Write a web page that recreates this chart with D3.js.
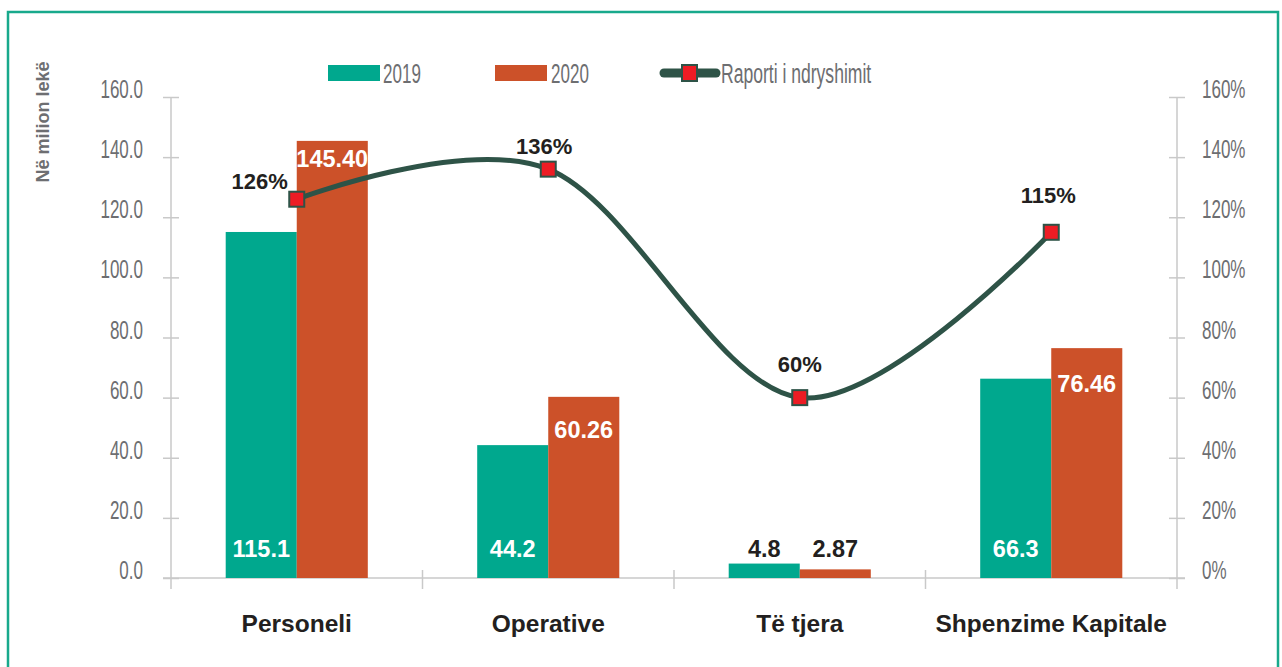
<!DOCTYPE html>
<html lang="en">
<head>
<meta charset="UTF-8">
<title>Shpenzimet 2019 - 2020</title>
<style>
  body { margin: 0; background: #fff; }
  .cond { font-family: "Liberation Sans Narrow", "Liberation Sans", Arial, sans-serif; fill: #6d6e71; }
  .bold { font-family: "Liberation Sans", Arial, sans-serif; font-weight: bold; }
</style>
</head>
<body>
<div id="chart"></div>
<script src="https://d3js.org/d3.v7.min.js"></script>
<script>
// data
var categories = ["Personeli", "Operative", "Të tjera", "Shpenzime Kapitale"];
var series = ["2019", "2020"];
var values2019 = [115.1, 44.2, 4.8, 66.3];
var values2020 = [145.40, 60.26, 2.87, 76.46];
var labels2019 = ["115.1", "44.2", "4.8", "66.3"];
var labels2020 = ["145.40", "60.26", "2.87", "76.46"];
var ratio = [1.26, 1.36, 0.60, 1.15];
var leftTicks = [0, 20, 40, 60, 80, 100, 120, 140, 160];
var rightTicks = [0, 0.2, 0.4, 0.6, 0.8, 1.0, 1.2, 1.4, 1.6];

// label placement tweaks (layout only)
var lab2020Dy = [26, 41, 0, 44];
var ratioDx = [-37, -4, 0, -3];
var ratioDy = [-10, -15, -26, -29];

var width = 1282, height = 667;
var colors = { "2019": "#00a88e", "2020": "#cc5129" };
var lineColor = "#2e5347";
var axisColor = "#c9c9c9";

var svg = d3.select("#chart").append("svg")
    .attr("width", width)
    .attr("height", height);

// squeeze text horizontally to imitate the condensed face
function squeeze(sel, k) {
  sel.each(function () {
    var len = this.getComputedTextLength();
    d3.select(this).attr("textLength", len * k).attr("lengthAdjust", "spacingAndGlyphs");
  });
}

// frame
svg.append("rect")
    .attr("x", 8).attr("y", 12)
    .attr("width", 1270).attr("height", 700)
    .attr("fill", "none")
    .attr("stroke", "#18a98c")
    .attr("stroke-width", 2.5);

var x = d3.scaleBand().domain(categories).range([171, 1177]);
var x1 = d3.scaleBand().domain(series).range([0, x.bandwidth()]).paddingOuter(0.77);
var y = d3.scaleLinear().domain([0, 160]).range([578, 97]);
var yR = d3.scaleLinear().domain([0, 1.6]).range([578, 97]);

// left axis
var gl = svg.append("g").attr("transform", "translate(171,0)")
    .call(d3.axisLeft(y).tickValues(leftTicks).tickFormat(d3.format(".1f")));
gl.select(".domain").remove();
gl.selectAll(".tick line").attr("x1", -8).attr("x2", 8).attr("stroke", axisColor).attr("stroke-width", 1.5);
gl.selectAll(".tick text").attr("class", "cond").attr("x", -28).attr("dy", "0.02em")
    .style("font-size", "25px").attr("font-family", null).call(squeeze, 0.68);
gl.append("line").attr("y1", y(160)).attr("y2", y(0) + 11)
    .attr("stroke", axisColor).attr("stroke-width", 1.5);

// right axis
var gr = svg.append("g").attr("transform", "translate(1177,0)")
    .call(d3.axisRight(yR).tickValues(rightTicks).tickFormat(d3.format(".0%")));
gr.select(".domain").remove();
gr.selectAll(".tick line").attr("x1", -8).attr("x2", 8).attr("stroke", axisColor).attr("stroke-width", 1.5);
gr.selectAll(".tick text").attr("class", "cond").attr("x", 25).attr("dy", "0.02em")
    .style("font-size", "25px").attr("font-family", null).call(squeeze, 0.68);
gr.append("line").attr("y1", yR(1.6)).attr("y2", yR(0) + 11)
    .attr("stroke", axisColor).attr("stroke-width", 1.5);

// bottom axis
var gb = svg.append("g").attr("transform", "translate(0," + y(0) + ")")
    .call(d3.axisBottom(x).tickSize(0).tickPadding(37));
gb.select(".domain").remove();
gb.append("line").attr("x1", 163).attr("x2", 1185)
    .attr("stroke", axisColor).attr("stroke-width", 1.5);
gb.selectAll(".tick text").attr("class", "bold").attr("font-family", null)
    .style("font-size", "24.5px").attr("fill", "#231f20");
var bounds = categories.map(function (c) { return x(c); }).concat([x.range()[1]]);
gb.selectAll(".sep").data(bounds.slice(1, -1)).enter().append("line")
    .attr("x1", function (d) { return d; }).attr("x2", function (d) { return d; })
    .attr("y1", -8).attr("y2", 11)
    .attr("stroke", axisColor).attr("stroke-width", 1.5);

// bars
var rows = categories.map(function (c, i) {
  return { cat: c, i: i, vals: [
    { s: "2019", v: values2019[i], lab: labels2019[i] },
    { s: "2020", v: values2020[i], lab: labels2020[i] }] };
});
var groups = svg.append("g").selectAll("g").data(rows).enter().append("g")
    .attr("transform", function (d) { return "translate(" + x(d.cat) + ",0)"; });
groups.selectAll("rect").data(function (d) { return d.vals; }).enter().append("rect")
    .attr("x", function (d) { return x1(d.s); })
    .attr("y", function (d) { return y(d.v); })
    .attr("width", x1.bandwidth())
    .attr("height", function (d) { return y(0) - y(d.v); })
    .attr("fill", function (d) { return colors[d.s]; });

// bar labels
groups.each(function (d) {
  var g = d3.select(this);
  var small = d.vals[0].v < 10;
  g.append("text").attr("class", "bold")
      .attr("x", x1("2019") + x1.bandwidth() / 2).attr("y", 557)
      .attr("text-anchor", "middle").style("font-size", "23.5px")
      .attr("fill", small ? "#231f20" : "#fff").text(d.vals[0].lab);
  var v = d.vals[1].v;
  g.append("text").attr("class", "bold")
      .attr("x", x1("2020") + x1.bandwidth() / 2)
      .attr("y", v < 10 ? 557 : y(v) + lab2020Dy[d.i])
      .attr("text-anchor", "middle").style("font-size", "23.5px")
      .attr("fill", v < 10 ? "#231f20" : "#fff").text(d.vals[1].lab);
});

// ratio line
var cx = function (i) { return x(categories[i]) + x.bandwidth() / 2; };
var line = d3.line()
    .x(function (d, i) { return cx(i); })
    .y(function (d) { return yR(d); })
    .curve(d3.curveCardinal.tension(0));
svg.append("path").datum(ratio)
    .attr("d", line)
    .attr("fill", "none")
    .attr("stroke", lineColor)
    .attr("stroke-width", 5);
svg.append("g").selectAll("rect").data(ratio).enter().append("rect")
    .attr("x", function (d, i) { return cx(i) - 7.5; })
    .attr("y", function (d) { return yR(d) - 7.5; })
    .attr("width", 15).attr("height", 15)
    .attr("fill", "#ed1c24").attr("stroke", lineColor).attr("stroke-width", 2);
svg.append("g").selectAll("text").data(ratio).enter().append("text")
    .attr("class", "bold")
    .attr("x", function (d, i) { return cx(i) + ratioDx[i]; })
    .attr("y", function (d, i) { return yR(d) + ratioDy[i]; })
    .attr("text-anchor", "middle").style("font-size", "22px")
    .attr("fill", "#231f20")
    .text(function (d) { return d3.format(".0%")(d); });

// y title
svg.append("text").attr("class", "bold")
    .attr("transform", "translate(49,122) rotate(-90)")
    .attr("text-anchor", "middle").style("font-size", "18px")
    .attr("fill", "#6d6e71").text("Në milion lekë");

// legend
var lg = svg.append("g");
var swatches = [{ s: "2019", x: 328, tx: 383 }, { s: "2020", x: 495, tx: 551 }];
lg.selectAll("rect").data(swatches).enter().append("rect")
    .attr("x", function (d) { return d.x; }).attr("y", 65)
    .attr("width", 52).attr("height", 16)
    .attr("fill", function (d) { return colors[d.s]; });
lg.selectAll("text.sw").data(swatches).enter().append("text")
    .attr("class", "cond").attr("x", function (d) { return d.tx; }).attr("y", 83)
    .style("font-size", "27px").text(function (d) { return d.s; })
    .call(squeeze, 0.63);
lg.append("line").attr("x1", 664).attr("x2", 716).attr("y1", 73).attr("y2", 73)
    .attr("stroke", lineColor).attr("stroke-width", 9).attr("stroke-linecap", "round");
lg.append("rect").attr("x", 682).attr("y", 65).attr("width", 15).attr("height", 16)
    .attr("fill", "#ed1c24").attr("stroke", lineColor).attr("stroke-width", 2);
lg.append("text").attr("class", "cond").attr("x", 721).attr("y", 83)
    .style("font-size", "27px").text("Raporti i ndryshimit")
    .call(squeeze, 0.65);
</script>
</body>
</html>
